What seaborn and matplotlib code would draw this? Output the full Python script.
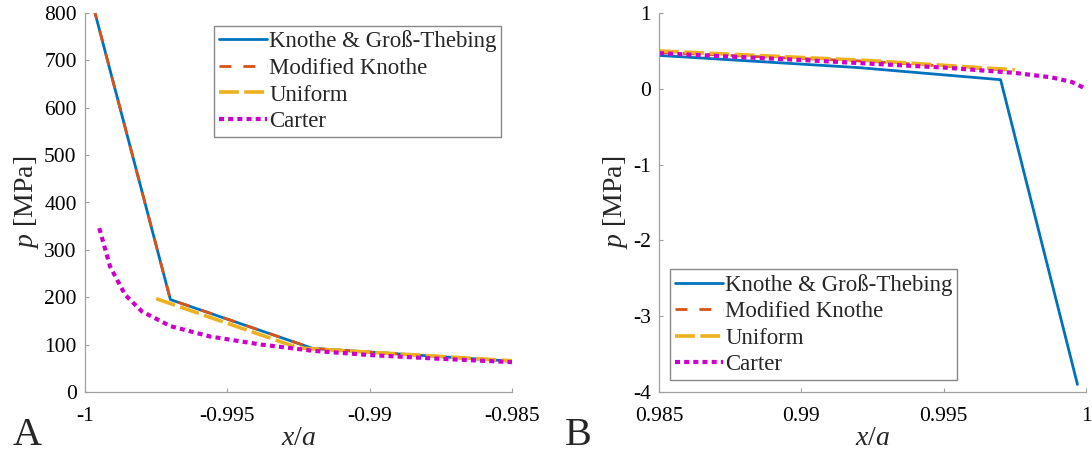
import matplotlib
matplotlib.use("Agg")
import matplotlib.pyplot as plt
import seaborn as sns
import pandas as pd
from matplotlib.ticker import FuncFormatter

# ---------------- data ----------------
series_names = ["Knothe & Groß-Thebing", "Modified Knothe", "Uniform", "Carter"]

# Panel A (leading edge, x/a near -1)
a_knothe_x = [-0.9997, -0.997, -0.992, -0.985]
a_knothe_y = [812, 195, 92, 65]
a_modknothe_x = [-0.9997, -0.997, -0.992, -0.985]
a_modknothe_y = [812, 195, 92, 65]
a_uniform_x = [-0.9975, -0.9925, -0.985]
a_uniform_y = [197, 93, 66]
a_carter_x = [-0.9995, -0.99912, -0.99859, -0.998, -0.997, -0.9956, -0.9938, -0.992, -0.99, -0.9875, -0.985]
a_carter_y = [346, 265, 205, 170, 139, 117, 100, 87, 78, 70, 63]

# Panel B (trailing edge, x/a near +1)
b_knothe_x = [0.985, 0.992, 0.997, 0.9997]
b_knothe_y = [0.44, 0.28, 0.12, -3.9]
b_modknothe_x = [0.985, 0.9925, 0.9975]
b_modknothe_y = [0.48, 0.36, 0.24]
b_uniform_x = [0.985, 0.9925, 0.9975]
b_uniform_y = [0.50, 0.37, 0.25]
b_carter_x = [0.985, 0.99, 0.995, 0.9975, 0.9988, 0.9995, 1.0]
b_carter_y = [0.47, 0.38, 0.28, 0.21, 0.15, 0.09, 0.0]

a_xticks = [-1, -0.995, -0.99, -0.985]
a_yticks = [0, 100, 200, 300, 400, 500, 600, 700, 800]
b_xticks = [0.985, 0.99, 0.995, 1]
b_yticks = [-4, -3, -2, -1, 0, 1]

# ---------------- style ----------------
sns.set_theme(style="white")
plt.rcParams["font.family"] = ["Liberation Serif", "DejaVu Serif"]
plt.rcParams["mathtext.fontset"] = "custom"
plt.rcParams["mathtext.rm"] = "Liberation Serif"
plt.rcParams["mathtext.it"] = "Liberation Serif:italic"
plt.rcParams["axes.unicode_minus"] = False

colors = ["#0072BD", "#D95319", "#EDB120", "#CC00CC"]
widths = [2.0, 2.0, 2.6, 3.0]
dashes = [None, (4.3, 4.3), (5.5, 1.5), (1.2, 1.0)]

fig = plt.figure(figsize=(10.92, 4.65), dpi=100)
axA = fig.add_axes([85 / 1092, 73 / 465, 427 / 1092, 379 / 465])
axB = fig.add_axes([659 / 1092, 73 / 465, 427 / 1092, 379 / 465])


def draw(ax, xs, ys):
    for name, x, y, c, w, d in zip(series_names, xs, ys, colors, widths, dashes):
        df = pd.DataFrame({"x": x, "y": y})
        sns.lineplot(data=df, x="x", y="y", ax=ax, sort=False, estimator=None,
                     color=c, linewidth=w, label=name)
        ln = ax.lines[-1]
        if d is not None:
            ln.set_dashes(d)
            ln.set_dash_capstyle("butt")


draw(axA,
     [a_knothe_x, a_modknothe_x, a_uniform_x, a_carter_x],
     [a_knothe_y, a_modknothe_y, a_uniform_y, a_carter_y])
draw(axB,
     [b_knothe_x, b_modknothe_x, b_uniform_x, b_carter_x],
     [b_knothe_y, b_modknothe_y, b_uniform_y, b_carter_y])

fmt = FuncFormatter(lambda v, p: f"{v:g}")
for ax, xt, yt in [(axA, a_xticks, a_yticks), (axB, b_xticks, b_yticks)]:
    ax.set_xlim(xt[0], xt[-1])
    ax.set_ylim(yt[0], yt[-1])
    ax.set_xticks(xt)
    ax.set_yticks(yt)
    ax.xaxis.set_major_formatter(fmt)
    ax.yaxis.set_major_formatter(fmt)
    for s in ["top", "right"]:
        ax.spines[s].set_visible(False)
    for s in ["left", "bottom"]:
        ax.spines[s].set_color("#a0a0a0")
        ax.spines[s].set_linewidth(0.9)
    ax.tick_params(axis="both", direction="in", length=3, width=0.8, color="#a0a0a0",
                   labelsize=15.5, labelcolor="black", bottom=True, left=True)
    ax.tick_params(axis="x", pad=11)
    ax.tick_params(axis="y", pad=6)
    ax.set_xlabel(r"$x/a$", fontsize=20, labelpad=0)
    ax.set_ylabel(r"$p$ [MPa]", fontsize=20, labelpad=2)
    ax.set_facecolor("white")

leg_kw = dict(fontsize=16.5, frameon=True, fancybox=False, framealpha=1, edgecolor="#888888",
              handlelength=2.1, handletextpad=0.1, borderpad=0.2, labelspacing=0.24,
              borderaxespad=0)
legA = axA.legend(loc="upper right", bbox_to_anchor=(0.975, 0.966), **leg_kw)
legB = axB.legend(loc="lower left", bbox_to_anchor=(0.026, 0.032), **leg_kw)
for leg in (legA, legB):
    leg.get_frame().set_linewidth(1.0)

fig.text(13 / 1092, 20 / 465, "A", fontsize=29, ha="left", va="baseline")
fig.text(565 / 1092, 20 / 465, "B", fontsize=29, ha="left", va="baseline")

fig.savefig("out.png", dpi=100, facecolor="white")
